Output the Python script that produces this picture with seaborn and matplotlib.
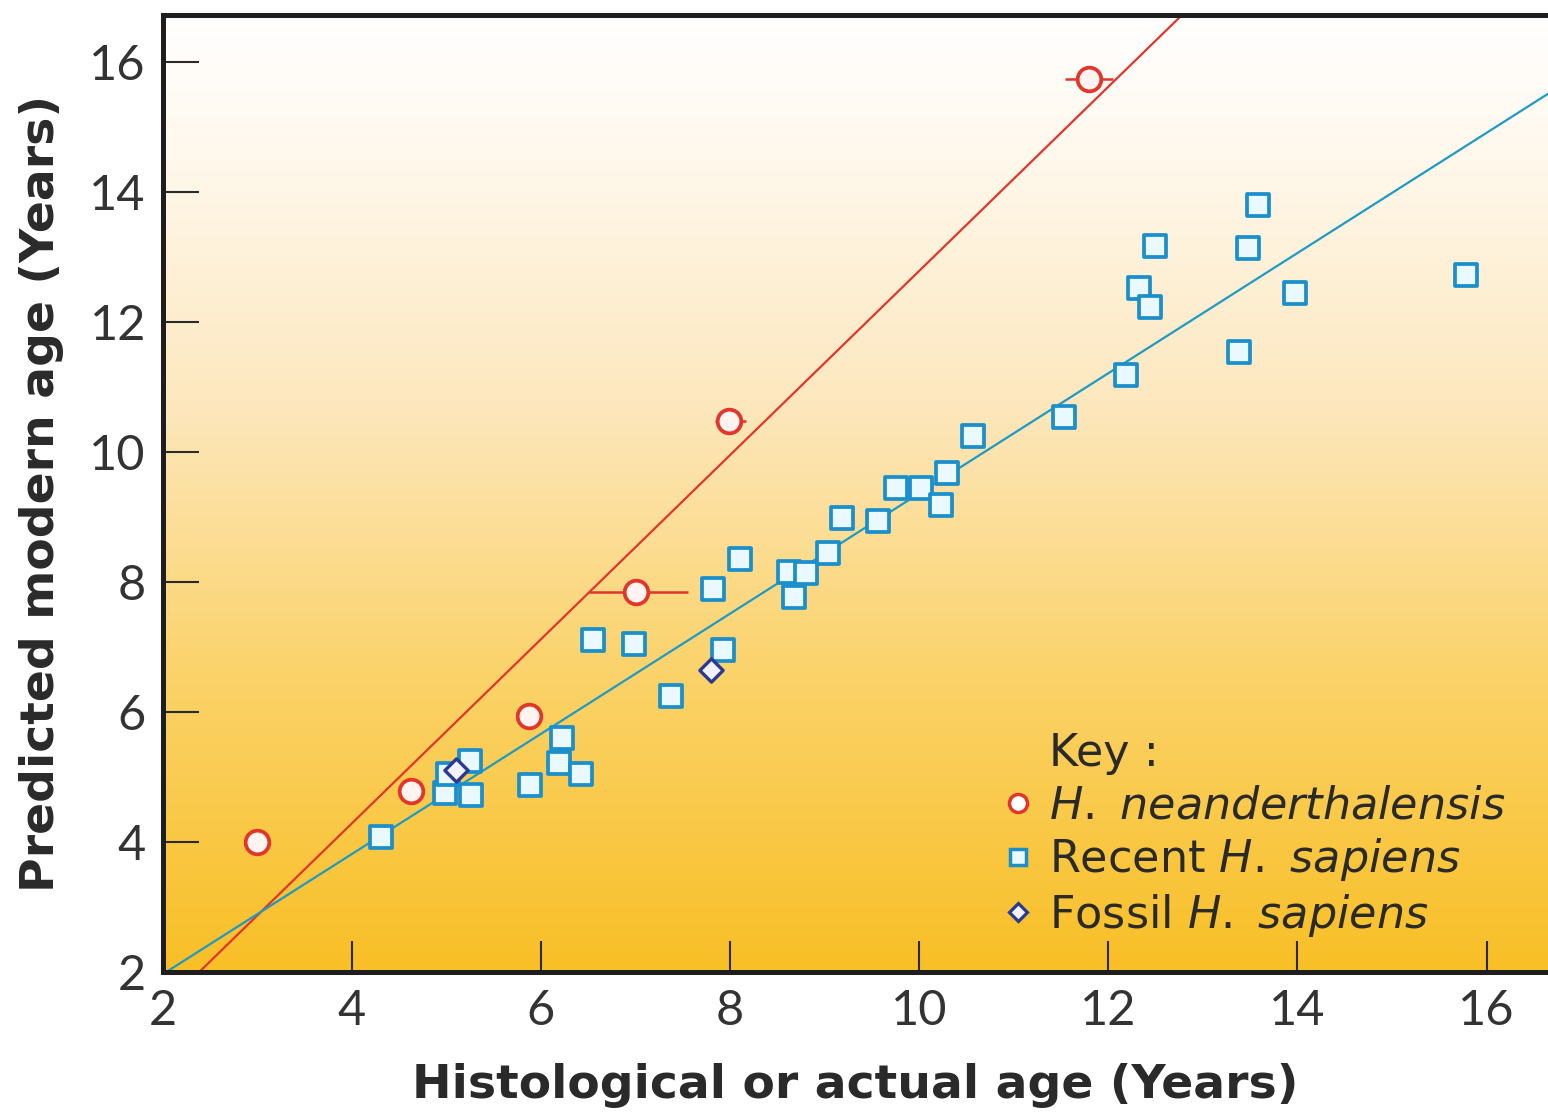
import numpy as np
import pandas as pd
import matplotlib
matplotlib.use("Agg")
import matplotlib.pyplot as plt
import seaborn as sns
from matplotlib.colors import LinearSegmentedColormap
from matplotlib.lines import Line2D

# H. neanderthalensis (circles, with horizontal error bars)
nean_x = [3.00, 4.63, 5.87, 7.01, 7.99, 11.80]
nean_y = [4.00, 4.79, 5.94, 7.84, 10.48, 15.74]
nean_xerr_lo = [0, 0, 0, 0.50, 0.15, 0.26]
nean_xerr_hi = [0, 0, 0, 0.55, 0.18, 0.25]

# Recent H. sapiens (squares)
recent_x = [4.31, 4.99, 5.02, 5.25, 5.26, 5.89, 6.19, 6.22, 6.43, 6.55,
            6.98, 7.38, 7.82, 7.93, 8.11, 8.62, 8.80, 8.68, 9.04, 9.18,
            9.57, 9.76, 10.02, 10.23, 10.29, 10.57, 11.53, 12.19, 13.38, 13.97,
            12.32, 12.44, 12.49, 13.48, 13.58, 15.78]
recent_y = [4.07, 4.76, 5.04, 5.25, 4.73, 4.88, 5.21, 5.60, 5.04, 7.11,
            7.05, 6.25, 7.89, 6.95, 8.36, 8.15, 8.13, 7.77, 8.44, 8.99,
            8.93, 9.44, 9.44, 9.18, 9.68, 10.24, 10.54, 11.19, 11.54, 12.44,
            12.52, 12.23, 13.17, 13.13, 13.79, 12.72]

# Fossil H. sapiens (diamonds)
fossil_x = [5.10, 7.80]
fossil_y = [5.11, 6.65]

x_ticks = [2, 4, 6, 8, 10, 12, 14, 16]
y_ticks = [2, 4, 6, 8, 10, 12, 14, 16]

RED = "#e2352b"
BLUE = "#1b8fcc"
LINE_BLUE = "#1f9ac4"
NAVY = "#2a3a92"
INK = "#2a2a2a"

nean = pd.DataFrame({"x": nean_x, "y": nean_y})
sapiens = pd.DataFrame({"x": recent_x + fossil_x, "y": recent_y + fossil_y})
recent = pd.DataFrame({"x": recent_x, "y": recent_y})
fossil = pd.DataFrame({"x": fossil_x, "y": fossil_y})

sns.set_style("ticks")
plt.rcParams["font.family"] = ["DejaVu Sans"]
plt.rcParams["mathtext.fontset"] = "dejavusans"

fig = plt.figure(figsize=(15.48, 11.16), dpi=100)
ax = fig.add_axes([0.105, 0.129, 0.895, 0.8576])

xlim = (2, 16.65)
ylim = (2, 16.72)
ax.set_xlim(*xlim)
ax.set_ylim(*ylim)

# background gradient
cmap = LinearSegmentedColormap.from_list(
    "bg", [(0, "#f8bf26"), (0.3, "#fbd267"), (0.6, "#fde8bf"), (0.85, "#fff8ec"), (1, "#ffffff")])
grad = np.linspace(0, 1, 256).reshape(-1, 1)
ax.imshow(grad, cmap=cmap, extent=[*xlim, *ylim], origin="lower", aspect="auto", zorder=0)

# regression lines
sns.regplot(data=nean, x="x", y="y", ax=ax, scatter=False, ci=None, truncate=False,
            line_kws={"color": RED, "lw": 1.6, "zorder": 2})
sns.regplot(data=sapiens, x="x", y="y", ax=ax, scatter=False, ci=None, truncate=False,
            line_kws={"color": LINE_BLUE, "lw": 1.6, "zorder": 2})
ax.set_xlim(*xlim)
ax.set_ylim(*ylim)

# error bars
ax.errorbar(nean_x, nean_y, xerr=[nean_xerr_lo, nean_xerr_hi], fmt="none",
            ecolor=RED, elinewidth=1.8, capsize=0, zorder=3)

sns.scatterplot(data=recent, x="x", y="y", ax=ax, marker="s", s=230,
                facecolor="#eaf8ff", edgecolor=BLUE, linewidth=2.7, zorder=4)
sns.scatterplot(data=nean, x="x", y="y", ax=ax, marker="o", s=290,
                facecolor="#fff4f0", edgecolor=RED, linewidth=2.7, zorder=5)
sns.scatterplot(data=fossil, x="x", y="y", ax=ax, marker="D", s=140,
                facecolor="#f2f2ff", edgecolor=NAVY, linewidth=2.4, zorder=5)

ax.set_xticks(x_ticks)
ax.set_yticks(y_ticks)
ax.tick_params(axis="both", direction="in", width=1.5, colors=INK)
ax.tick_params(axis="x", length=22, pad=12)
ax.tick_params(axis="y", length=26, pad=12)
for lab in ax.get_xticklabels() + ax.get_yticklabels():
    lab.set_family(["Lato", "DejaVu Sans"])
    lab.set_fontsize(35)
    lab.set_color("#333333")

for side in ["left", "top", "bottom"]:
    ax.spines[side].set_linewidth(3.6)
    ax.spines[side].set_color("#1e1e1e")
    ax.spines[side].set_zorder(10)
ax.spines["right"].set_visible(False)

ax.set_xlabel("Histological or actual age (Years)", fontsize=34, fontweight="bold",
              color=INK, labelpad=22)
ax.set_ylabel("Predicted modern age (Years)", fontsize=34, fontweight="bold",
              color=INK, labelpad=18)

handles = [
    Line2D([], [], ls="none"),
    Line2D([], [], ls="none", marker="o", ms=13, mfc="white", mec=RED, mew=2.5),
    Line2D([], [], ls="none", marker="s", ms=12, mfc="#eaf8ff", mec=BLUE, mew=2.5),
    Line2D([], [], ls="none", marker="D", ms=9.5, mfc="#f2f2ff", mec=NAVY, mew=2.3),
]
labels = ["Key :", r"$\mathit{H.\ neanderthalensis}$", r"Recent $\mathit{H.\ sapiens}$",
          r"Fossil $\mathit{H.\ sapiens}$"]
leg = ax.legend(handles, labels, loc="lower right",
                bbox_to_anchor=(0.982, 0.016), frameon=False, fontsize=32,
                handletextpad=0.3, labelspacing=0.2, handlelength=0.8,
                borderaxespad=0)
for t in leg.get_texts():
    t.set_color(INK)

fig.savefig("out.png", dpi=100, facecolor="white")
